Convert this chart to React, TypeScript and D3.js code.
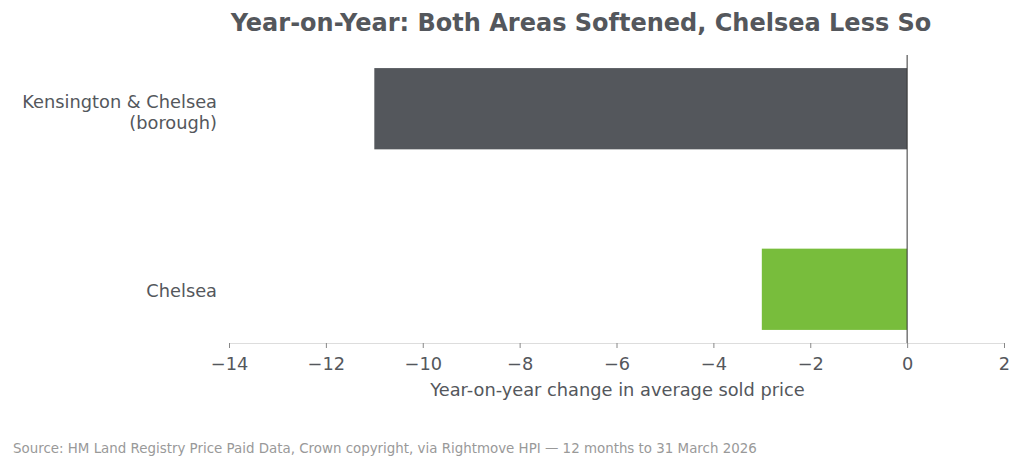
import * as d3 from 'd3';
import React, { useEffect, useRef } from 'react';

const categories = ['Chelsea', 'Kensington & Chelsea (borough)'];
const categoryLines = [['Chelsea'], ['Kensington & Chelsea', '(borough)']];
const yoyChange = [-3.0, -11.0];
const barColors = ['#78bd3c', '#54575c'];
const xTicks = [-14, -12, -10, -8, -6, -4, -2, 0, 2];

function App() {
    const ref = useRef<SVGSVGElement>(null);

    useEffect(() => {
        const svg = d3.select(ref.current);
        svg.selectAll('*').remove();

        const font = 'DejaVu Sans, sans-serif';
        const left = 229, right = 1004, top = 55, bottom = 343;

        const x = d3.scaleLinear().domain([-14, 2]).range([left, right]);
        const y = d3.scaleLinear().domain([-0.2975, 1.2975]).range([bottom, top]);
        const barH = y(0) - y(0.45);

        svg.append('rect').attr('width', 1024).attr('height', 466).attr('fill', '#fff');

        svg.append('text')
            .attr('x', 581).attr('y', 31)
            .attr('text-anchor', 'middle')
            .attr('font-family', font).attr('font-weight', 'bold')
            .attr('font-size', 24).attr('fill', '#54575c')
            .text('Year-on-Year: Both Areas Softened, Chelsea Less So');

        svg.selectAll('.bar')
            .data(categories)
            .enter().append('rect')
            .attr('class', 'bar')
            .attr('x', (d, i) => x(Math.min(0, yoyChange[i])))
            .attr('width', (d, i) => Math.abs(x(yoyChange[i]) - x(0)))
            .attr('y', (d, i) => y(i) - barH / 2)
            .attr('height', barH)
            .attr('fill', (d, i) => barColors[i]);

        // zero line
        svg.append('line')
            .attr('x1', x(0)).attr('x2', x(0))
            .attr('y1', top).attr('y2', bottom)
            .attr('stroke', '#333').attr('stroke-width', 1);

        const axis = svg.append('g')
            .attr('transform', `translate(0,${bottom})`)
            .call(d3.axisBottom(x).tickValues(xTicks).tickSize(5).tickPadding(9)
                .tickFormat(d => (d as number) < 0 ? '\u2212' + Math.abs(d as number) : String(d)));
        axis.select('.domain').attr('stroke', '#ddd');
        axis.selectAll('.tick line').attr('stroke', '#888');
        axis.selectAll('.tick text')
            .attr('font-family', font).attr('font-size', 17.8).attr('fill', '#54575c');

        svg.append('text')
            .attr('x', (left + right) / 2 + 1).attr('y', 396)
            .attr('text-anchor', 'middle')
            .attr('font-family', font).attr('font-size', 17.8).attr('fill', '#54575c')
            .text('Year-on-year change in average sold price');

        const labels = svg.selectAll('.cat')
            .data(categoryLines)
            .enter().append('text')
            .attr('class', 'cat')
            .attr('text-anchor', 'end')
            .attr('font-family', font).attr('font-size', 17.8).attr('fill', '#54575c');
        labels.each(function (lines, i) {
            const t = d3.select(this);
            const y0 = y(i) - (lines.length - 1) * 10.5 + 7 + (lines.length > 1 ? 3 : 1);
            lines.forEach((ln, j) => {
                t.append('tspan').attr('x', 217).attr('y', y0 + j * 21).text(ln);
            });
        });

        svg.append('text')
            .attr('x', 13).attr('y', 453)
            .attr('font-family', font).attr('font-size', 13.4).attr('fill', '#999')
            .text('Source: HM Land Registry Price Paid Data, Crown copyright, via Rightmove HPI \u2014 12 months to 31 March 2026');
    }, []);

    return <svg ref={ref} width={1024} height={466} style={{ position: 'absolute', left: 0, top: 0 }}></svg>;
}

export default App;
